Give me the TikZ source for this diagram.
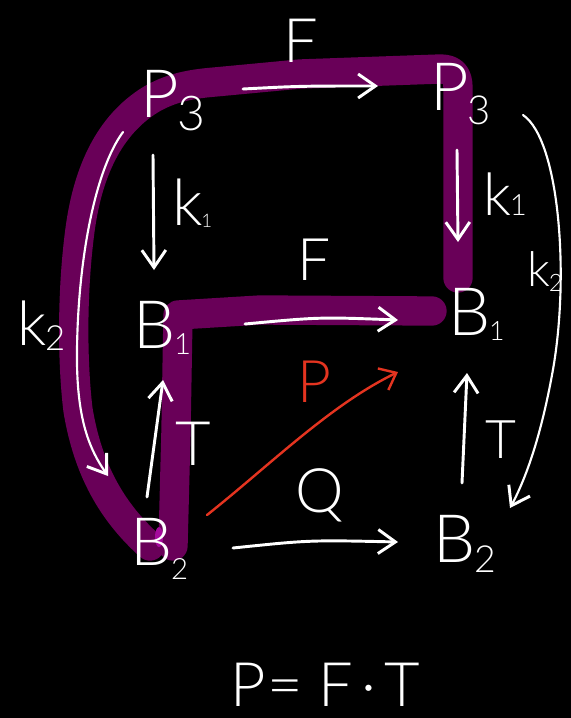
\documentclass[tikz,border=0pt]{standalone}
\usepackage{fontspec}
\setmainfont{Lato}[UprightFont=* Light]
\usetikzlibrary{arrows.meta}
\definecolor{hl}{RGB}{105,0,88}
\definecolor{hlb}{RGB}{165,10,155}
\definecolor{redink}{RGB}{228,52,32}
\newcommand\sbs[4]{#1\kern-1pt\raisebox{-#4}{\fontsize{#3}{#3}\selectfont #2}}
\begin{document}
\begin{tikzpicture}[x=0.75pt,y=-0.75pt,
  ink/.style={white,line width=2.2pt,line cap=round,line join=round},
  thin ink/.style={white,line width=1.6pt,line cap=round,line join=round},
  tipw/.style={-{Straight Barb[length=13pt,width=18pt,line width=2.2pt]}},
  hlpath/.style={hl,line width=22pt,line cap=round,line join=round},
  sym/.style={text=white,inner sep=0pt,anchor=base west,font=\fontsize{50}{50}\selectfont},
  lbl/.style={text=white,inner sep=0pt,anchor=base west,font=\fontsize{44}{44}\selectfont}]
\fill[black] (0,0) rectangle (571,718);
\useasboundingbox (0,0) rectangle (571,718);
% highlighted paths
\draw[hlpath] (150,546) .. controls (112,512) and (88,470) .. (78,410)
  .. controls (72,360) and (72,290) .. (80,230)
  .. controls (88,170) and (110,125) .. (150,100)
  .. controls (170,88) and (190,84) .. (215,82) -- (300,74) -- (440,69)
  .. controls (452,69) and (458,74) .. (458,88) -- (458,278);
\draw[hlpath] (432,311) -- (260,310) -- (178,315) -- (176,430) -- (173,546);
\fill[hlb] (159,537) ellipse (4 and 10);
% objects
\node[sym] (P3a) at (140,117) {\sbs{P}{3}{36}{10pt}};
\node[sym] (P3b) at (430,110) {\sbs{P}{3}{30}{11pt}};
\node[sym] (B1a) at (133,348) {\sbs{B}{1}{22}{5pt}};
\node[sym] (B1b) at (448,335) {\sbs{B}{1}{20}{4pt}};
\node[sym] (B2a) at (130,565) {\sbs{B}{2}{22}{11pt}};
\node[sym] (B2b) at (433,562) {\sbs{B}{2}{28}{8pt}};
% labels
\node[lbl,font=\fontsize{46}{46}\selectfont] (Ftop) at (283,62) {F};
\node[lbl] (Fmid) at (297,280) {F};
\node[lbl,font=\fontsize{48}{48}\selectfont] (k1a) at (172,225) {\sbs{k}{1}{14}{2pt}};
\node[lbl,font=\fontsize{44}{44}\selectfont] (k1b) at (483,215) {\sbs{k}{1}{22}{0pt}};
\node[lbl,font=\fontsize{36}{36}\selectfont] (k2b) at (527,286) {\sbs{k}{2}{18}{4pt}};
\node[lbl,font=\fontsize{46}{46}\selectfont] (k2a) at (17,345) {\sbs{k}{2}{26}{4pt}};
\node[lbl,font=\fontsize{46}{46}\selectfont] (Ta) at (175,465) {T};
\node[lbl,font=\fontsize{40}{40}\selectfont] (Tb) at (485,458) {T};
\node[lbl,font=\fontsize{46}{46}\selectfont] (Q) at (295,512) {Q};
\node[lbl,text=redink] (Pr) at (297,402) {P};
\node[lbl,font=\fontsize{46}{46}\selectfont] (eq) at (230,706)
  {P\kern1pt=\kern12pt F\kern6pt·\kern6pt T};
% arrow end points
\coordinate (a1) at (243,89);  \coordinate (a2) at (378,86);
\coordinate (b1) at (153,155); \coordinate (b2) at (154,270);
\coordinate (c1) at (457,150); \coordinate (c2) at (458,242);
\coordinate (d1) at (245,324); \coordinate (d2) at (398,320);
\coordinate (e1) at (147,497); \coordinate (e2) at (163,380);
\coordinate (f1) at (462,483); \coordinate (f2) at (467,373);
\coordinate (g1) at (233,548); \coordinate (g2) at (398,542);
\coordinate (h1) at (207,515); \coordinate (h2) at (398,372);
\coordinate (i1) at (123,132); \coordinate (i2) at (108,476);
\coordinate (j1) at (523,115); \coordinate (j2) at (510,508);
% arrows
\draw[ink,tipw] (a1) .. controls (300,86) .. (a2);
\draw[ink,tipw] (b1) -- (b2);
\draw[ink,tipw] (c1) -- (c2);
\draw[ink,tipw] (d1) .. controls (320,317) .. (d2);
\draw[ink,tipw] (e1) -- (e2);
\draw[ink,tipw] (f1) -- (f2);
\draw[ink,tipw] (g1) .. controls (310,540) .. (g2);
\draw[redink,line width=1.8pt,line cap=round,-{Straight Barb[length=11pt,width=18pt,line width=1.8pt]}]
  (h1) .. controls (270,465) and (330,405) .. (h2);
\draw[thin ink,tipw] (i1) .. controls (95,170) and (78,260) .. (77,350)
  .. controls (76,420) and (90,450) .. (i2);
\draw[thin ink,tipw] (j1) .. controls (560,140) and (570,280) .. (552,375)
  .. controls (540,440) and (525,480) .. (j2);
\end{tikzpicture}
\end{document}
